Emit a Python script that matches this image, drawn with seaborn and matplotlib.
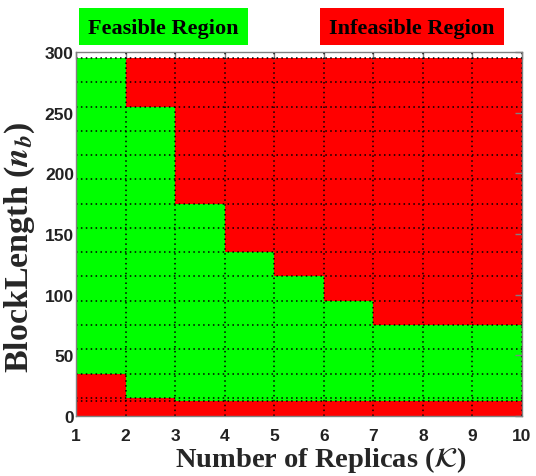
import matplotlib
matplotlib.use("Agg")
import matplotlib.pyplot as plt
import seaborn as sns
import numpy as np
import pandas as pd
from matplotlib.patches import Rectangle

sns.set_style("white")
plt.rcParams["font.family"] = ["Liberation Sans", "DejaVu Sans"]
plt.rcParams["mathtext.fontset"] = "stix"
plt.rcParams["text.color"] = "black"

# Data: per replica interval [K, K+1]
replicas = [1, 2, 3, 4, 5, 6, 7, 8, 9]
lower_bound = [35, 15, 12, 12, 12, 12, 12, 12, 12]
upper_bound = [295, 255, 175, 135, 115, 95, 75, 75, 75]
data_top = [295, 295, 295, 295, 295, 295, 295, 295, 295]
mesh_rows = [12] + list(range(15, 300, 20))
x_ticks = [1, 2, 3, 4, 5, 6, 7, 8, 9, 10]
y_ticks = [0, 50, 100, 150, 200, 250, 300]

df = pd.DataFrame({"K": replicas, "low": lower_bound, "up": upper_bound, "top": data_top})

GREEN = "#00FF00"
RED = "#FF0000"

fig = plt.figure(figsize=(5.36, 4.77), dpi=100)
ax = fig.add_axes([76/536, 1-417/477, (522-76)/536, (417-53)/477])

ax.bar(df["K"], df["low"], width=1, align="edge", color=RED, linewidth=0)
ax.bar(df["K"], df["up"] - df["low"], bottom=df["low"], width=1, align="edge", color=GREEN, linewidth=0)
ax.bar(df["K"], df["top"] - df["up"], bottom=df["up"], width=1, align="edge", color=RED, linewidth=0)

ax.set_xlim(1, 10)
ax.set_ylim(0, 300)
ax.set_xticks(x_ticks)
ax.set_yticks(y_ticks)
ax.set_yticks(mesh_rows, minor=True)
ax.set_xticklabels([str(v) for v in x_ticks], fontsize=12.5, fontweight="bold", color="#222222")
ax.set_yticklabels([str(v) for v in y_ticks], fontsize=12.5, fontweight="bold", color="#222222")

ax.set_axisbelow(False)
ax.grid(False)
for xv in x_ticks:
    ax.axvline(xv, color="black", linestyle=(0, (1, 2.2)), linewidth=1.1, zorder=3)
for yv in mesh_rows:
    ax.axhline(yv, color="black", linestyle=(0, (1, 2.2)), linewidth=1.1, zorder=3)

ax.tick_params(axis="both", which="major", direction="in", length=5, width=1,
               color="#808080", top=True, right=True)
ax.tick_params(axis="x", which="major", pad=9)
ax.tick_params(axis="y", which="major", pad=1.5)
ax.tick_params(axis="y", which="minor", length=0)
for s in ax.spines.values():
    s.set_color("#808080")
    s.set_linewidth(1)
    s.set_zorder(4)

ax.set_xlabel(r"Number of Replicas ($\mathcal{K}$)", fontsize=20.5, fontweight="bold",
              family="Liberation Serif")
ax.set_ylabel(r"BlockLength ($\mathbfit{n}_{\mathbfit{b}}$)", fontsize=24.5, fontweight="bold",
              family="Liberation Serif")
ax.xaxis.set_label_coords((321-76)/446, (417-445)/364)
ax.yaxis.set_label_coords((37-76)/446, (417-247)/364)

# legend boxes
W, H = 536, 477
fig.patches.append(Rectangle((79/W, 1-46/H), 169/W, 37/H, transform=fig.transFigure,
                             facecolor=GREEN, edgecolor="none"))
fig.patches.append(Rectangle((320/W, 1-46/H), 184/W, 37/H, transform=fig.transFigure,
                             facecolor=RED, edgecolor="none"))
fig.text((79+169/2)/W, 1-29/H, "Feasible Region", ha="center", va="center",
         fontsize=16, fontweight="bold", family="Liberation Serif", color="black")
fig.text((320+184/2)/W, 1-29/H, "Infeasible Region", ha="center", va="center",
         fontsize=16, fontweight="bold", family="Liberation Serif", color="black")

fig.savefig("out.png", dpi=100)
